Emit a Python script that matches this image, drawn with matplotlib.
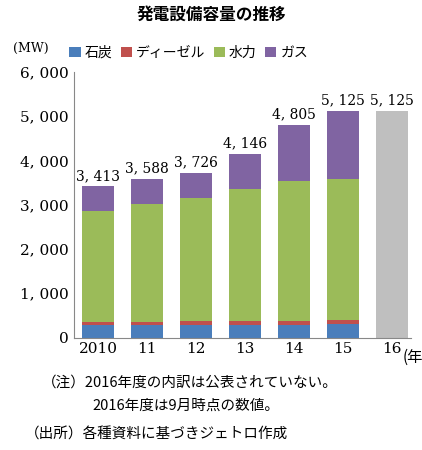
import matplotlib.pyplot as plt
import numpy as np

plt.rcParams['font.family'] = ['Noto Sans CJK JP', 'DejaVu Sans']

years = ["2010", "11", "12", "13", "14", "15", "16"]
coal = [290, 290, 290, 290, 290, 300, 0]
diesel = [50, 60, 80, 80, 80, 100, 0]
hydro = [2510, 2668, 2783, 2987, 3167, 3189, 0]
gas = [563, 570, 573, 789, 1268, 1536, 0]
total_2016 = 5125
totals = [3413, 3588, 3726, 4146, 4805, 5125, 5125]

fig = plt.figure(figsize=(4.22, 4.5), dpi=100)
ax = fig.add_axes([0.175, 0.25, 0.8, 0.59])
x = np.arange(len(years))
w = 0.65
b = np.zeros(len(years))
for vals, col, lab in [(coal, "#4a7ebb", "石炭"), (diesel, "#c0504d", "ディーゼル"),
                       (hydro, "#9bbb59", "水力"), (gas, "#8064a2", "ガス")]:
    ax.bar(x, vals, w, bottom=b, color=col, label=lab)
    b += np.array(vals)
ax.bar(x[-1], total_2016, w, color="#bfbfbf")
for xi, t in zip(x, totals):
    ax.text(xi, t + 80, f"{t:,}".replace(",", ", "), ha="center", va="bottom",
            fontsize=10, family="DejaVu Serif")

ax.set_ylim(0, 6000)
ax.set_xlim(-0.5, 6.4)
ax.set_yticks(range(0, 6001, 1000))
ax.set_yticklabels([f"{v:,}".replace(",", ", ") for v in range(0, 6001, 1000)],
                   family="DejaVu Serif", fontsize=11)
ax.set_xticks(x)
ax.set_xticklabels(years, family="DejaVu Serif", fontsize=11)
ax.tick_params(length=0)
for s in ["top", "right"]:
    ax.spines[s].set_visible(False)
ax.spines["left"].set_color("#888888")
ax.spines["bottom"].set_color("#888888")

fig.text(0.5, 0.955, "発電設備容量の推移", ha="center", fontsize=12, weight="bold")
fig.text(0.03, 0.885, "(MW)", fontsize=9, family="DejaVu Serif")
fig.text(0.955, 0.195, "(年", fontsize=11)
ax.legend(loc="lower left", bbox_to_anchor=(-0.05, 1.0), ncol=4, frameon=False,
          fontsize=10, handlelength=0.8, handletextpad=0.3, columnspacing=0.6)
fig.text(0.1, 0.14, "（注）2016年度の内訳は公表されていない。", fontsize=10.5)
fig.text(0.22, 0.09, "2016年度は9月時点の数値。", fontsize=10.5)
fig.text(0.06, 0.025, "（出所）各種資料に基づきジェトロ作成", fontsize=10.5)
fig.savefig("out.png")
